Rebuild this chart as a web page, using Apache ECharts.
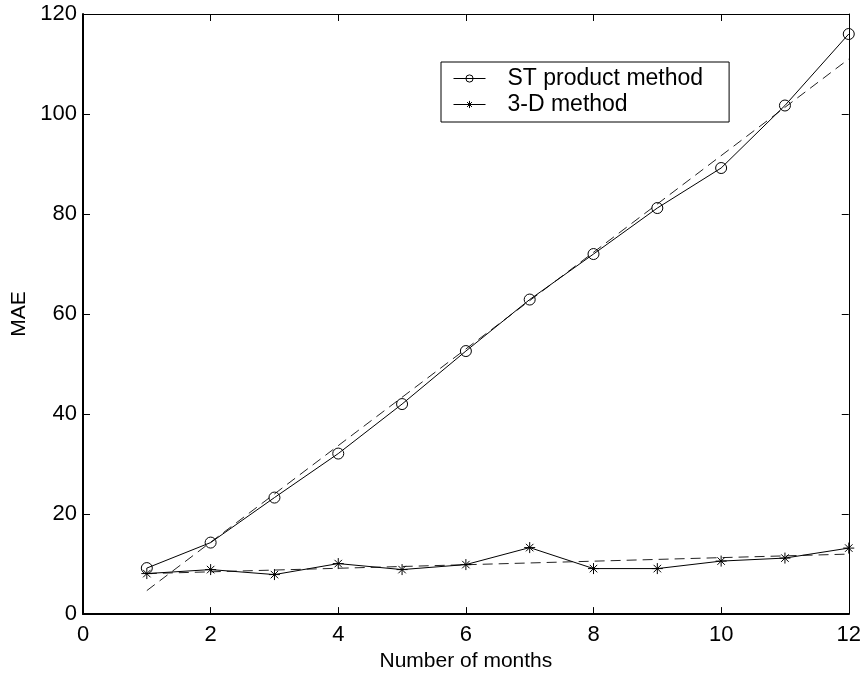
<!DOCTYPE html>
<html>
<head>
<meta charset="utf-8">
<script src="https://cdn.jsdelivr.net/npm/echarts@6/dist/echarts.min.js"></script>
<style>html,body{margin:0;padding:0;background:#fff;}#chart{width:864px;height:677px;}</style>
</head>
<body>
<div id="chart"></div>
<script>
const months = [1, 2, 3, 4, 5, 6, 7, 8, 9, 10, 11, 12];
const stProduct = [9.2, 14.3, 23.3, 32.1, 42.0, 52.6, 62.9, 72.0, 81.2, 89.2, 101.7, 116.0];
const threeD = [8.1, 8.9, 7.9, 10.1, 8.9, 9.9, 13.3, 9.1, 9.1, 10.6, 11.2, 13.2];
const trendX = [1, 12];
const stTrend = [4.7, 111.0];
const threeDTrend = [8.1, 12.0];
const xTicks = [0, 2, 4, 6, 8, 10, 12];
const yTicks = [0, 20, 40, 60, 80, 100, 120];

const font = 'Liberation Sans, Arial, Helvetica, sans-serif';
const pair = (xs, ys) => xs.map((x, i) => [x, ys[i]]);
const star = 'path://M5,0L5,10M0,5L10,5M1.6,1.6L8.4,8.4M1.6,8.4L8.4,1.6';

const chart = echarts.init(document.getElementById('chart'), null, {renderer: 'canvas'});
const axisCommon = {
  type: 'value',
  splitLine: {show: false},
  axisTick: {show: true, inside: true, length: 7, lineStyle: {color: '#000', width: 1}}
};
chart.setOption({
  animation: false,
  backgroundColor: '#fff',
  grid: {left: 83, right: 14, top: 14, bottom: 58, containLabel: false},
  xAxis: [
    Object.assign({}, axisCommon, {
      position: 'bottom', min: xTicks[0], max: xTicks[xTicks.length - 1], interval: 2,
      axisLine: {show: true, onZero: false, lineStyle: {color: '#000', width: 2}},
      axisLabel: {color: '#000', fontSize: 22, fontFamily: font, margin: 10},
      name: 'Number of months', nameLocation: 'middle', nameGap: 35,
      nameTextStyle: {color: '#000', fontSize: 21, fontFamily: font}
    }),
    Object.assign({}, axisCommon, {
      position: 'top', min: xTicks[0], max: xTicks[xTicks.length - 1], interval: 2,
      axisLine: {show: true, onZero: false, lineStyle: {color: '#000', width: 1}},
      axisLabel: {show: false}
    })
  ],
  yAxis: [
    Object.assign({}, axisCommon, {
      position: 'left', min: yTicks[0], max: yTicks[yTicks.length - 1], interval: 20,
      axisLine: {show: true, onZero: false, lineStyle: {color: '#000', width: 2}},
      axisLabel: {color: '#000', fontSize: 22, fontFamily: font, margin: 6},
      name: 'MAE', nameLocation: 'middle', nameGap: 50, nameRotate: 90,
      nameTextStyle: {color: '#000', fontSize: 21, fontFamily: font}
    }),
    Object.assign({}, axisCommon, {
      position: 'right', min: yTicks[0], max: yTicks[yTicks.length - 1], interval: 20,
      axisLine: {show: true, onZero: false, lineStyle: {color: '#000', width: 1}},
      axisLabel: {show: false}
    })
  ],
  legend: {
    orient: 'vertical', left: 441, top: 62,
    data: ['ST product method', '3-D method'],
    backgroundColor: '#fff', borderColor: '#000', borderWidth: 1,
    padding: [5, 26, 6, 12], itemGap: 3, itemWidth: 32, itemHeight: 9,
    lineStyle: {width: 1, color: '#000'},
    itemStyle: {borderWidth: 1, borderColor: '#000'},
    textStyle: {color: '#000', fontSize: 23, fontFamily: font, padding: [0, 0, 0, 17]}
  },
  series: [
    {
      name: 'ST product method', type: 'line', data: pair(months, stProduct),
      symbol: 'circle', symbolSize: 11,
      lineStyle: {color: '#000', width: 1},
      itemStyle: {color: 'rgba(0,0,0,0)', borderColor: '#000', borderWidth: 1},
      z: 3
    },
    {
      name: '3-D method', type: 'line', data: pair(months, threeD),
      symbol: star, symbolSize: 11,
      lineStyle: {color: '#000', width: 1},
      itemStyle: {color: '#000', borderColor: '#000', borderWidth: 1},
      z: 3
    },
    {
      name: 'st-trend', type: 'line', data: pair(trendX, stTrend),
      symbol: 'none', silent: true,
      lineStyle: {color: '#222', width: 1, type: [10, 6]}, z: 2
    },
    {
      name: '3d-trend', type: 'line', data: pair(trendX, threeDTrend),
      symbol: 'none', silent: true,
      lineStyle: {color: '#222', width: 1, type: [10, 6]}, z: 2
    }
  ]
});
</script>
</body>
</html>
